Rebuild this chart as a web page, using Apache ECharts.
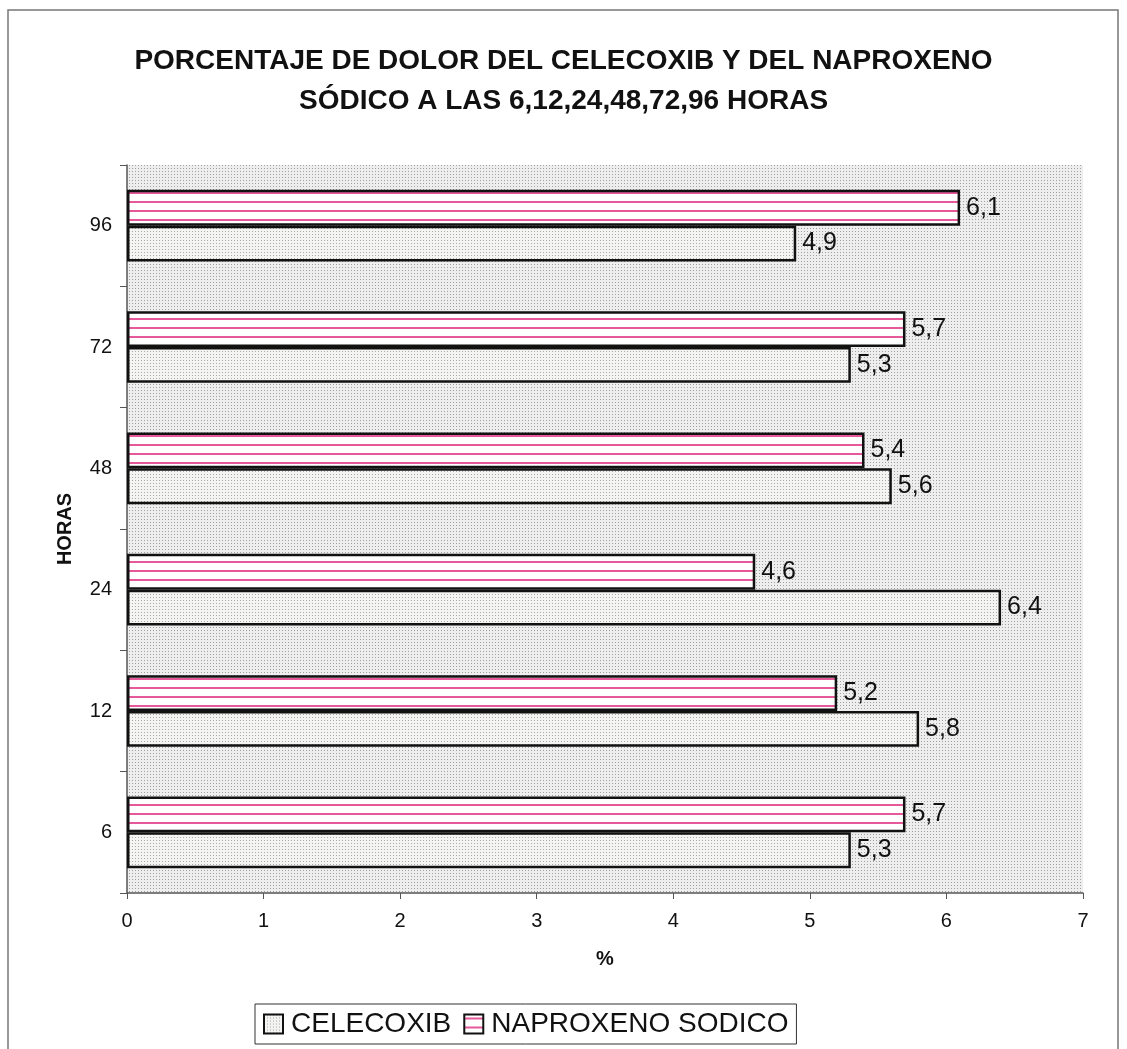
<!DOCTYPE html>
<html>
<head>
<meta charset="utf-8">
<script src="https://cdn.jsdelivr.net/npm/echarts@6/dist/echarts.min.js"></script>
<style>
  html, body { margin: 0; padding: 0; background: #fff; }
  #main { width: 1127px; height: 1049px; }
</style>
</head>
<body>
<div id="main"></div>
<script>
var horas = ['6', '12', '24', '48', '72', '96'];
var celecoxib = [5.3, 5.8, 6.4, 5.6, 5.3, 4.9];
var naproxeno = [5.7, 5.2, 4.6, 5.4, 5.7, 6.1];
var xTicks = [0, 1, 2, 3, 4, 5, 6, 7];

// patrones de relleno
function dotPattern(bg, dot) {
    var c = document.createElement('canvas');
    c.width = 3; c.height = 3;
    var ctx = c.getContext('2d');
    ctx.fillStyle = bg;
    ctx.fillRect(0, 0, 3, 3);
    ctx.fillStyle = dot;
    ctx.fillRect(0, 0, 1, 1);
    return c;
}
function stripePattern() {
    var c = document.createElement('canvas');
    c.width = 8; c.height = 9;
    var ctx = c.getContext('2d');
    ctx.fillStyle = '#ffffff';
    ctx.fillRect(0, 0, 8, 9);
    ctx.fillStyle = '#e6589a';
    ctx.fillRect(0, 3, 8, 2);
    return c;
}
var fondo = { image: dotPattern('#eeeeee', '#a0a0a0'), repeat: 'repeat' };
var puntos = { image: dotPattern('#f4f4f2', '#aaaaaa'), repeat: 'repeat' };
var rayas = { image: stripePattern(), repeat: 'repeat' };

var myChart = echarts.init(document.getElementById('main'));

var labelFmt = function (p) { return String(p.value).replace('.', ','); };
var fuente = 'Liberation Sans, Arial';

var option = {
    backgroundColor: '#fff',
    animation: false,
    title: {
        text: 'PORCENTAJE DE DOLOR DEL CELECOXIB Y DEL NAPROXENO\nSÓDICO A LAS 6,12,24,48,72,96 HORAS',
        left: 'center',
        top: 36,
        textStyle: {
            fontFamily: fuente,
            fontWeight: 'bold',
            fontSize: 28,
            lineHeight: 40,
            color: '#111'
        }
    },
    legend: {
        left: 255,
        top: 1004,
        itemGap: 12,
        itemWidth: 19,
        itemHeight: 19,
        padding: [6, 8, 6, 8],
        borderColor: '#333',
        borderWidth: 1,
        borderRadius: 0,
        icon: 'rect',
        textStyle: {
            fontFamily: fuente,
            fontSize: 28,
            color: '#111',
            padding: [0, 0, 0, 3]
        },
        data: ['CELECOXIB', 'NAPROXENO SODICO']
    },
    grid: {
        left: 127,
        right: 44,
        top: 165,
        bottom: 156,
        show: true,
        backgroundColor: fondo,
        borderWidth: 0
    },
    xAxis: {
        type: 'value',
        min: 0,
        max: 7,
        interval: 1,
        name: '%',
        nameLocation: 'middle',
        nameGap: 56,
        nameTextStyle: {
            fontFamily: fuente,
            fontWeight: 'bold',
            fontSize: 20,
            color: '#111'
        },
        axisLine: { show: true, lineStyle: { color: '#555', width: 1.5 } },
        axisTick: { show: true, length: 6, lineStyle: { color: '#555' } },
        splitLine: { show: false },
        axisLabel: {
            margin: 18,
            fontFamily: fuente,
            fontSize: 20,
            color: '#111',
            formatter: function (v) { return xTicks.indexOf(v) >= 0 ? String(v) : ''; }
        }
    },
    yAxis: {
        type: 'category',
        data: horas,
        name: 'HORAS',
        nameLocation: 'middle',
        nameGap: 52,
        nameRotate: 90,
        nameTextStyle: {
            fontFamily: fuente,
            fontWeight: 'bold',
            fontSize: 20,
            color: '#111'
        },
        axisLine: { show: true, lineStyle: { color: '#555', width: 1.5 } },
        axisTick: { show: true, length: 7, lineStyle: { color: '#555' } },
        axisLabel: {
            margin: 15,
            fontFamily: fuente,
            fontSize: 20,
            color: '#111'
        }
    },
    series: [
        {
            name: 'NAPROXENO SODICO',
            type: 'bar',
            data: naproxeno,
            barGap: '0%',
            barCategoryGap: '41%',
            itemStyle: { color: rayas, borderColor: '#111', borderWidth: 2.5 },
            label: {
                show: true,
                position: 'right',
                distance: 6,
                formatter: labelFmt,
                fontFamily: fuente,
                fontSize: 25,
                color: '#111'
            }
        },
        {
            name: 'CELECOXIB',
            type: 'bar',
            data: celecoxib,
            itemStyle: { color: puntos, borderColor: '#111', borderWidth: 2.5 },
            label: {
                show: true,
                position: 'right',
                distance: 6,
                formatter: labelFmt,
                fontFamily: fuente,
                fontSize: 25,
                color: '#111'
            }
        }
    ],
    graphic: [
        {
            type: 'rect',
            shape: { x: 8, y: 10, width: 1110, height: 1045 },
            style: { fill: 'none', stroke: '#777', lineWidth: 1.5 },
            silent: true,
            z: 100
        }
    ]
};

myChart.setOption(option);
</script>
</body>
</html>
